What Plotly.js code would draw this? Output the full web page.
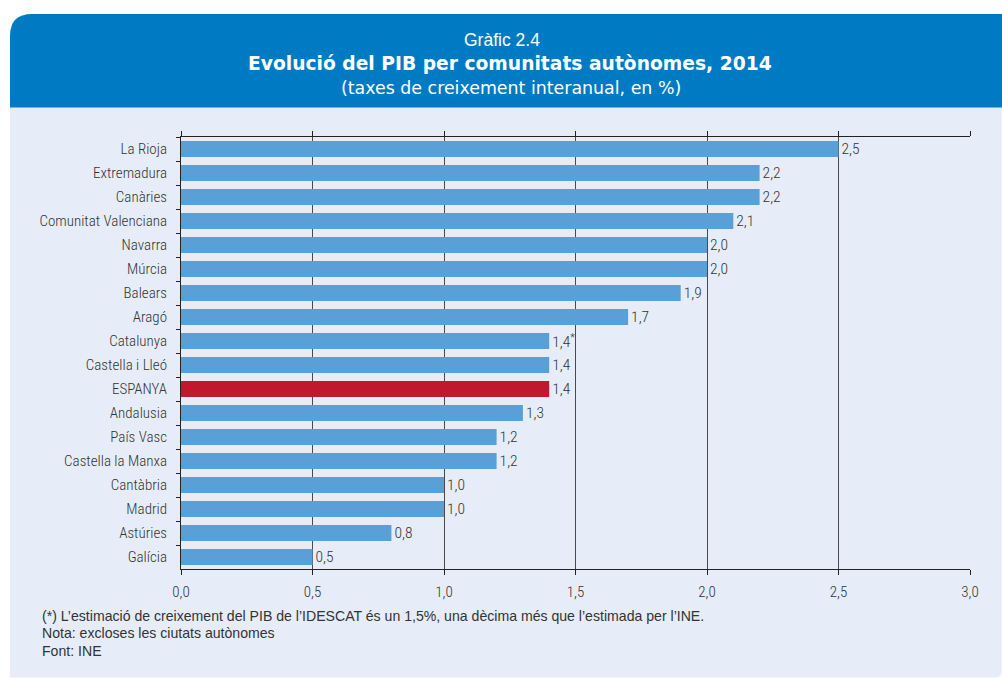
<!DOCTYPE html>
<html>
<head>
<meta charset="utf-8">
<script src="https://cdn.plot.ly/plotly-3.0.1.min.js"></script>
<style>
html,body{margin:0;padding:0;background:#ffffff;}
#chart{width:1002px;height:679px;}
</style>
</head>
<body>
<div id="chart"></div>
<script>
// ---- data ----
var categories = ["La Rioja","Extremadura","Canàries","Comunitat Valenciana","Navarra","Múrcia","Balears","Aragó","Catalunya","Castella i Lleó","ESPANYA","Andalusia","País Vasc","Castella la Manxa","Cantàbria","Madrid","Astúries","Galícia"];
var values = [2.5,2.2,2.2,2.1,2.0,2.0,1.9,1.7,1.4,1.4,1.4,1.3,1.2,1.2,1.0,1.0,0.8,0.5];
var labelSuffix = ["","","","","","","","","*","","","","","","","","",""];
var highlightCategory = "ESPANYA";
var xTicks = [0,0.5,1,1.5,2,2.5,3];
var xTickLabels = ["0,0","0,5","1,0","1,5","2,0","2,5","3,0"];
var titleLine1 = "Gràfic 2.4";
var titleLine2 = "Evolució del PIB per comunitats autònomes, 2014";
var titleLine3 = "(taxes de creixement interanual, en %)";
var notes = ["(*) L’estimació de creixement del PIB de l’IDESCAT és un 1,5%, una dècima més que l’estimada per l’INE.",
             "Nota: excloses les ciutats autònomes",
             "Font: INE"];

// ---- geometry helpers (pixel -> paper) ----
var W = 1002, H = 679;
var M = {l:181, r:32, t:137, b:110};
var PW = W - M.l - M.r, PH = H - M.t - M.b;
function px(x){ return (x - M.l) / PW; }
function py(y){ return (H - M.b - y) / PH; }

var condensed = "'Roboto Condensed', 'Noto Sans Condensed', 'Liberation Sans', Arial, sans-serif";
var regular = "'Liberation Sans', Arial, sans-serif";
var wide = "'DejaVu Sans', sans-serif";

var barColors = categories.map(function(c){ return c === highlightCategory ? "#c0192d" : "#5a9fd5"; });
var barText = values.map(function(v,i){
  var s = v.toFixed(1).replace(".", ",");
  return labelSuffix[i] ? s + "<sup>" + labelSuffix[i] + "</sup>" : s;
});

var condFont = {family: condensed, size: 15, color: "#333333", weight: 300};

var trace = {
  type: "bar",
  orientation: "h",
  x: values,
  y: categories,
  width: 0.66,
  marker: {color: barColors, line: {width: 0}},
  text: barText,
  textposition: "outside",
  constraintext: "none",
  cliponaxis: false,
  textfont: {family: condensed, size: 15.5, color: "#333333", weight: 300},
  hoverinfo: "x+y"
};

function pathBg(){
  var x0 = px(10), x1 = px(1001.5), y0 = py(107), y1 = py(677.5);
  var rx = 6/PW, ry = 6/PH;
  return "M" + x0 + "," + y0 + " L" + x1 + "," + y0 + " L" + x1 + "," + (y1+ry) +
         " Q" + x1 + "," + y1 + " " + (x1-rx) + "," + y1 + " L" + x0 + "," + y1 + " Z";
}
function pathHeader(){
  var x0 = px(10), x1 = px(1002), yb = py(107.5), yt = py(14);
  var rx = 22/PW, ry = 22/PH;
  return "M" + x0 + "," + yb + " L" + x0 + "," + (yt - ry) +
         " Q" + x0 + "," + yt + " " + (x0 + rx) + "," + yt +
         " L" + x1 + "," + yt + " L" + x1 + "," + yb + " Z";
}

var annotations = [
  {text: titleLine1, x: px(502), y: py(40), xref:"paper", yref:"paper", showarrow:false, xanchor:"center", yanchor:"middle",
   font:{family: regular, size:17.5, color:"#ffffff"}},
  {text: "<b>" + titleLine2 + "</b>", x: px(510), y: py(63), xref:"paper", yref:"paper", showarrow:false, xanchor:"center", yanchor:"middle",
   font:{family: wide, size:18.7, color:"#ffffff"}},
  {text: titleLine3, x: px(511), y: py(88), xref:"paper", yref:"paper", showarrow:false, xanchor:"center", yanchor:"middle",
   font:{family: wide, size:17.4, color:"#ffffff"}}
];
var noteY = [616, 633, 651];
notes.forEach(function(n, i){
  annotations.push({text: n, x: px(40), y: py(noteY[i]), xref:"paper", yref:"paper", showarrow:false,
    xanchor:"left", yanchor:"middle", font:{family: regular, size:14.1, color:"#333333"}});
});

var layout = {
  width: W, height: H,
  margin: {l: M.l, r: M.r, t: M.t, b: M.b, pad: 0},
  paper_bgcolor: "#ffffff",
  plot_bgcolor: "rgba(0,0,0,0)",
  separators: ",.",
  showlegend: false,
  bargap: 0.34,
  xaxis: {
    range: [0, 3],
    tickvals: xTicks,
    ticktext: xTickLabels,
    ticks: "outside", ticklen: 5, tickcolor: "#222222", tickwidth: 1,
    showline: true, linecolor: "#222222", linewidth: 1.3, mirror: "ticks",
    showgrid: true, gridcolor: "#4a4a4a", gridwidth: 1,
    zeroline: false,
    tickfont: condFont,
    ticklabelstandoff: 4,
    fixedrange: true
  },
  yaxis: {
    type: "category",
    autorange: "reversed",
    tickson: "boundaries",
    ticks: "outside", ticklen: 4, tickcolor: "#222222",
    showline: true, linecolor: "#222222", linewidth: 1,
    showgrid: false,
    tickfont: condFont,
    ticklabelstandoff: 10,
    fixedrange: true
  },
  shapes: [
    {type:"path", xref:"paper", yref:"paper", path: pathBg(), fillcolor:"#e6edf8", line:{width:0}, layer:"below"},
    {type:"path", xref:"paper", yref:"paper", path: pathHeader(), fillcolor:"#007bc3", line:{width:0}, layer:"below"}
  ],
  annotations: annotations
};

Plotly.newPlot("chart", [trace], layout, {displayModeBar: false, staticPlot: true});
</script>
</body>
</html>
